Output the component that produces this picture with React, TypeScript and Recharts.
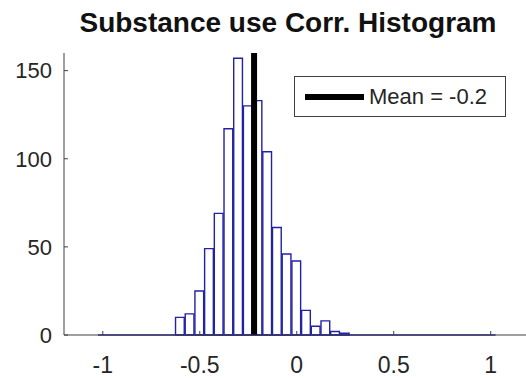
import { ComposedChart, Bar, XAxis, YAxis, ReferenceLine } from "recharts"

// histogram bins (only the non-empty ones), width 0.05
const binCenters = [-0.6, -0.55, -0.5, -0.45, -0.4, -0.35, -0.3, -0.25, -0.2, -0.15, -0.1, -0.05, 0, 0.05, 0.1, 0.15, 0.2, 0.25]
const binCounts = [10, 12, 25, 49, 69, 117, 157, 130, 133, 104, 61, 46, 42, 14, 5, 8, 2, 1]
const binWidth = 0.05
const histRange = [-1.025, 1.025]

const meanValue = -0.22
const meanLabel = "Mean = -0.2"
const title = "Substance use Corr. Histogram"

const xTicks = [-1, -0.5, 0, 0.5, 1]
const yTicks = [0, 50, 100, 150]
const xDomain = [-1.2, 1.2]
const yDomain = [0, 160]

const data = binCenters.map((x, i) => ({ x, count: binCounts[i] }))

const W = 545
const H = 378
const leftW = 64
const rightW = 15.5
const barPx = ((W - leftW - rightW) / (xDomain[1] - xDomain[0])) * binWidth

const font = "'Liberation Sans', Arial, sans-serif"
const axisColor = "#404040"
const textColor = "#262626"
const blue = "#2222a6"

export default function App() {
  return (
    <div style={{ position: "absolute", left: 0, top: 0, width: 526, height: 378, overflow: "hidden", background: "#fff", fontFamily: font }}>
      <ComposedChart width={W} height={H} data={data} margin={{ top: 53, right: 0, bottom: 0, left: 0 }}>
        <XAxis
          xAxisId="bottom"
          dataKey="x"
          type="number"
          domain={xDomain}
          ticks={xTicks}
          height={43}
          stroke={axisColor}
          tickSize={-4}
          tickMargin={26}
          tick={{ fontSize: 23, fill: textColor, fontFamily: font }}
          allowDataOverflow
        />
        <XAxis
          xAxisId="top"
          orientation="top"
          type="number"
          domain={xDomain}
          ticks={xTicks}
          height={0}
          stroke={axisColor}
          tickSize={-4}
          tickFormatter={() => ""}
          allowDataOverflow
        />
        <YAxis
          yAxisId="left"
          type="number"
          domain={yDomain}
          ticks={yTicks}
          width={leftW}
          stroke={axisColor}
          tickSize={-4}
          tickMargin={16}
          tick={{ fontSize: 22, fill: textColor, fontFamily: font }}
        />
        <YAxis
          yAxisId="right"
          orientation="right"
          type="number"
          domain={yDomain}
          ticks={yTicks}
          width={rightW}
          stroke={axisColor}
          tickSize={-4}
          tickFormatter={() => ""}
        />
        <Bar
          xAxisId="bottom"
          yAxisId="left"
          dataKey="count"
          barSize={barPx}
          fill="#fff"
          stroke={blue}
          strokeWidth={1.4}
          isAnimationActive={false}
        />
        <ReferenceLine
          xAxisId="bottom"
          yAxisId="left"
          segment={[{ x: histRange[0], y: 0 }, { x: histRange[1], y: 0 }]}
          stroke={blue}
          strokeWidth={1.6}
        />
        <ReferenceLine xAxisId="bottom" yAxisId="left" x={meanValue} stroke="#000" strokeWidth={6} />
      </ComposedChart>
      <div
        style={{
          position: "absolute",
          left: 0,
          top: 9,
          width: 576,
          textAlign: "center",
          fontSize: 28,
          lineHeight: "28px",
          fontWeight: "bold",
          color: "#111",
          whiteSpace: "nowrap",
        }}
      >
        {title}
      </div>
      <div
        style={{
          position: "absolute",
          left: 294,
          top: 76,
          width: 212,
          height: 41,
          boxSizing: "border-box",
          border: `1px solid ${axisColor}`,
          background: "#fff",
          display: "flex",
          alignItems: "center",
        }}
      >
        <div style={{ marginLeft: 10, width: 59, height: 6, background: "#000" }} />
        <div style={{ marginLeft: 5, fontSize: 22, color: textColor, whiteSpace: "nowrap" }}>{meanLabel}</div>
      </div>
    </div>
  )
}
